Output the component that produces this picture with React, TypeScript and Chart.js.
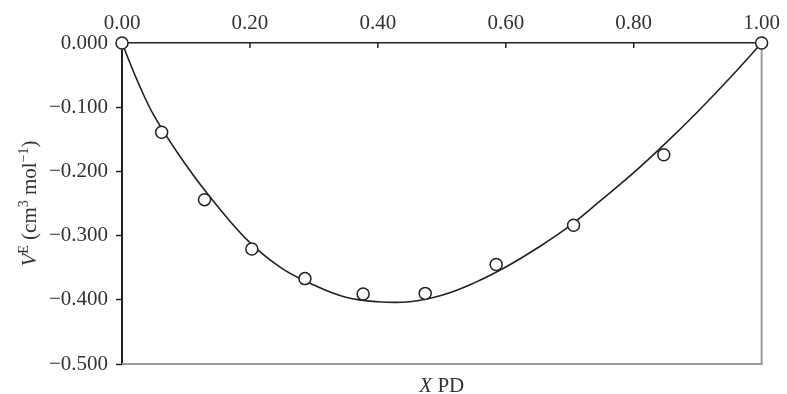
import React, { useEffect, useRef } from "react";
import { Chart, registerables } from "chart.js";

Chart.register(...registerables);

// Experimental points (mole fraction X of PD, excess molar volume V^E)
const pointX = [0, 0.062, 0.129, 0.203, 0.286, 0.377, 0.474, 0.585, 0.706, 0.847, 1.0];
const pointY = [0, -0.139, -0.244, -0.321, -0.367, -0.391, -0.39, -0.345, -0.284, -0.174, 0];

// Fitted curve
const curveX = [0, 0.025, 0.05, 0.1, 0.15, 0.2, 0.25, 0.3, 0.35, 0.4, 0.45, 0.5, 0.55, 0.6, 0.65, 0.7, 0.75, 0.8, 0.85, 0.9, 0.95, 1.0];
const curveY = [0, -0.061, -0.113, -0.19, -0.255, -0.311, -0.351, -0.377, -0.396, -0.403, -0.403, -0.393, -0.374, -0.349, -0.319, -0.285, -0.244, -0.202, -0.156, -0.107, -0.055, 0];

const xTicks = [0, 0.2, 0.4, 0.6, 0.8, 1.0];
const yMin = -0.5;
const yMax = 0;
const yStep = 0.1;

const FONT = "'Liberation Serif', 'Times New Roman', serif";
const SIZE = 21;

type Seg = { t: string; it?: boolean; sup?: boolean };

function drawRich(ctx: CanvasRenderingContext2D, segs: Seg[], x: number, y: number, size: number) {
  const fontFor = (s: Seg) => `${s.it ? "italic " : ""}${s.sup ? Math.round(size * 0.68) : size}px ${FONT}`;
  let total = 0;
  for (const s of segs) {
    ctx.font = fontFor(s);
    total += ctx.measureText(s.t).width;
  }
  let cx = x - total / 2;
  ctx.textBaseline = "alphabetic";
  ctx.textAlign = "left";
  for (const s of segs) {
    ctx.font = fontFor(s);
    ctx.fillText(s.t, cx, s.sup ? y - size * 0.4 : y);
    cx += ctx.measureText(s.t).width;
  }
}

const framePlugin = {
  id: "framePlugin",
  beforeDatasetsDraw(chart: any) {
    const { ctx, chartArea } = chart;
    const { left, right, top, bottom } = chartArea;
    ctx.save();
    const xs = chart.scales.x;
    ctx.strokeStyle = "#222";
    ctx.lineWidth = 1.5;
    for (const v of xTicks) {
      const px = xs.getPixelForValue(v);
      ctx.beginPath();
      ctx.moveTo(px, top);
      ctx.lineTo(px, top + 5);
      ctx.stroke();
    }
    ctx.strokeStyle = "#9a9a9a";
    ctx.lineWidth = 2;
    ctx.beginPath();
    ctx.moveTo(left, bottom);
    ctx.lineTo(right, bottom);
    ctx.lineTo(right, top);
    ctx.stroke();
    ctx.restore();
  },
  afterDraw(chart: any) {
    const { ctx, chartArea } = chart;
    ctx.save();
    ctx.fillStyle = "#333";
    drawRich(ctx, [{ t: "X", it: true }, { t: " PD" }], (chartArea.left + chartArea.right) / 2, 392, SIZE);
    ctx.translate(36, (chartArea.top + chartArea.bottom) / 2);
    ctx.rotate(-Math.PI / 2);
    drawRich(
      ctx,
      [
        { t: "V", it: true },
        { t: "E", sup: true },
        { t: " (cm" },
        { t: "3", sup: true },
        { t: " mol" },
        { t: "\u22121", sup: true },
        { t: ")" },
      ],
      0,
      0,
      SIZE
    );
    ctx.restore();
  },
};

export default function App() {
  const ref = useRef<HTMLCanvasElement | null>(null);
  useEffect(() => {
    if (!ref.current) return;
    const chart = new Chart(ref.current, {
      type: "scatter",
      data: {
        datasets: [
          {
            label: "points",
            data: pointX.map((x, i) => ({ x, y: pointY[i] })),
            pointStyle: "circle",
            pointRadius: 6,
            pointBorderWidth: 1.5,
            pointBorderColor: "#222",
            pointBackgroundColor: "#fff",
            showLine: false,
            clip: false as any,
            order: 0,
          },
          {
            label: "fit",
            data: curveX.map((x, i) => ({ x, y: curveY[i] })),
            showLine: true,
            pointRadius: 0,
            borderColor: "#222",
            borderWidth: 1.6,
            tension: 0.4,
            fill: false,
            clip: false as any,
            order: 1,
          },
        ],
      },
      options: {
        animation: false,
        responsive: true,
        maintainAspectRatio: false,
        layout: { padding: { left: 0, top: 0, right: 15.5, bottom: 30 } },
        plugins: { legend: { display: false }, tooltip: { enabled: false } },
        scales: {
          x: {
            type: "linear",
            position: "top",
            min: 0,
            max: 1,
            afterBuildTicks: (s: any) => {
              s.ticks = xTicks.map((v) => ({ value: v }));
            },
            ticks: {
              callback: (v: any) => Number(v).toFixed(2),
              font: { family: FONT, size: SIZE },
              color: "#333",
              padding: 7,
              maxRotation: 0,
              autoSkip: false,
            },
            grid: { drawOnChartArea: false, drawTicks: false },
            border: { display: true, color: "#222", width: 1.5 },
            afterFit: (s: any) => {
              s.height = 43;
            },
          },
          y: {
            type: "linear",
            position: "left",
            min: yMin,
            max: yMax,
            ticks: {
              stepSize: yStep,
              callback: (v: any) => {
                const n = Number(v);
                if (Math.abs(n) < 1e-9) return "0.000";
                return "\u2212" + Math.abs(n).toFixed(3);
              },
              font: { family: FONT, size: SIZE },
              color: "#333",
              padding: 8,
            },
            grid: { drawOnChartArea: false, drawTicks: true, tickLength: 6, tickColor: "#222", tickWidth: 1.5 },
            border: { display: true, color: "#222", width: 2 },
            afterFit: (s: any) => {
              s.width = 122;
            },
          },
        },
      },
      plugins: [framePlugin],
    });
    return () => chart.destroy();
  }, []);
  return (
    <div style={{ position: "fixed", left: 0, top: 0, width: 787, height: 394, background: "#fff" }}>
      <canvas ref={ref} />
    </div>
  );
}
